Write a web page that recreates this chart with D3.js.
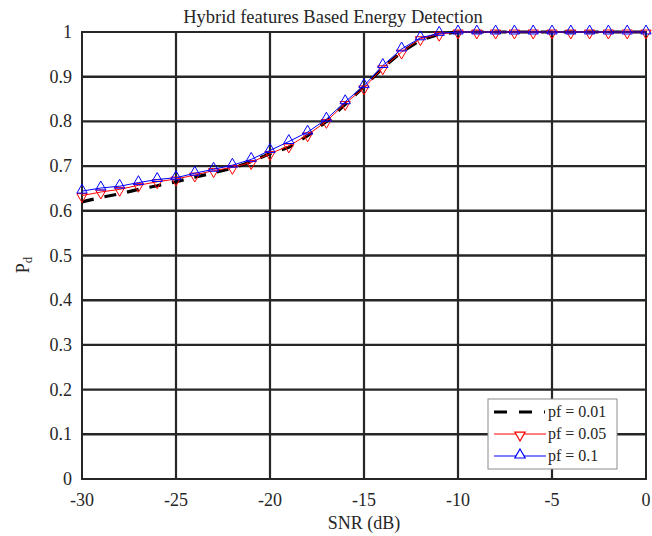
<html><head>
<meta charset="utf-8">
<title>Hybrid features Based Energy Detection</title>
<style>
  body {margin:0; background:#fff;}
  text {font-family:"Liberation Serif","Times New Roman",serif; fill:#262626;}
</style>
</head>
<body>
<script src="https://d3js.org/d3.v7.min.js"></script>
<script>
// SNR (dB) values
var snr = d3.range(-30, 1, 1);
// Pd
var pd001 = [0.620,0.630,0.638,0.648,0.656,0.665,0.675,0.685,0.695,0.710,0.728,
             0.742,0.768,0.800,0.838,0.878,0.920,0.955,0.982,0.995,1,
             1,1,1,1,1,1,1,1,1,1];
var pd005 = [0.634,0.642,0.648,0.657,0.665,0.671,0.680,0.690,0.697,0.708,0.728,
             0.745,0.770,0.800,0.840,0.875,0.920,0.955,0.985,0.995,1,
             1,1,1,1,1,1,1,1,1,1];
var pd01  = [0.644,0.651,0.655,0.663,0.670,0.674,0.684,0.693,0.702,0.715,0.735,
             0.755,0.776,0.805,0.844,0.880,0.925,0.962,0.987,0.997,1,
             1,1,1,1,1,1,1,1,1,1];
var xTicks = [-30,-25,-20,-15,-10,-5,0];
var yTicks = [0,0.1,0.2,0.3,0.4,0.5,0.6,0.7,0.8,0.9,1];
var names = ["pf = 0.01","pf = 0.05","pf = 0.1"];

var width = 652, height = 536;
var m = {left:82, right:6, top:32, bottom:57};

var svg = d3.select("body").append("svg")
    .attr("width", width).attr("height", height);

var x = d3.scaleLinear().domain([-30,0]).range([m.left, width-m.right]);
var y = d3.scaleLinear().domain([0,1]).range([height-m.bottom, m.top]);

var ink = "#262626";

// grid
svg.append("g").selectAll("line").data(xTicks.slice(1,-1)).enter().append("line")
    .attr("x1", d => x(d)).attr("x2", d => x(d))
    .attr("y1", y(0)).attr("y2", y(1))
    .attr("stroke", ink).attr("stroke-width", 2.2);
svg.append("g").selectAll("line").data(yTicks.slice(1,-1)).enter().append("line")
    .attr("y1", d => y(d)).attr("y2", d => y(d))
    .attr("x1", x(-30)).attr("x2", x(0))
    .attr("stroke", ink).attr("stroke-width", 2.4);

// box
svg.append("rect")
    .attr("x", x(-30)).attr("y", y(1))
    .attr("width", x(0)-x(-30)).attr("height", y(0)-y(1))
    .attr("fill", "none").attr("stroke", ink).attr("stroke-width", 2);

// axes labels
svg.append("g").selectAll("text").data(xTicks).enter().append("text")
    .attr("x", d => x(d)).attr("y", y(0)+27)
    .attr("text-anchor", "middle").attr("font-size", 18)
    .text(d => d);
svg.append("g").selectAll("text").data(yTicks).enter().append("text")
    .attr("x", x(-30)-10).attr("y", d => y(d)+6)
    .attr("text-anchor", "end").attr("font-size", 18)
    .text(d => d);

svg.append("text").attr("x", (x(-30)+x(0))/2).attr("y", 529)
    .attr("text-anchor", "middle").attr("font-size", 18).text("SNR (dB)");

var yl = svg.append("text").attr("transform", "translate(29,265) rotate(-90)")
    .attr("text-anchor", "middle").attr("font-size", 18);
yl.append("tspan").text("P");
yl.append("tspan").attr("font-size", 13).attr("dy", 3).text("d");

// title sits a bit left of the plot centre in the original
svg.append("text").attr("x", 333).attr("y", 23)
    .attr("text-anchor", "middle").attr("font-size", 18.5)
    .text("Hybrid features Based Energy Detection");

// series
var line = d3.line().x((d,i) => x(snr[i])).y(d => y(d));
var tri = d3.symbol().type(d3.symbolTriangle).size(46);

svg.append("path").datum(pd001).attr("d", line)
    .attr("fill", "none").attr("stroke", "#000").attr("stroke-width", 3.2)
    .attr("stroke-dasharray", "12,11");

svg.append("path").datum(pd005).attr("d", line)
    .attr("fill", "none").attr("stroke", "#ff0000").attr("stroke-width", 1);
svg.append("g").selectAll("path").data(pd005).enter().append("path")
    .attr("d", tri)
    .attr("transform", (d,i) => "translate(" + x(snr[i]) + "," + (y(d)+1) + ") rotate(180)")
    .attr("fill", "none").attr("stroke", "#ff0000").attr("stroke-width", 1);

svg.append("path").datum(pd01).attr("d", line)
    .attr("fill", "none").attr("stroke", "#0000ff").attr("stroke-width", 1);
svg.append("g").selectAll("path").data(pd01).enter().append("path")
    .attr("d", tri)
    .attr("transform", (d,i) => "translate(" + x(snr[i]) + "," + (y(d)-1) + ")")
    .attr("fill", "none").attr("stroke", "#0000ff").attr("stroke-width", 1);

// legend
var lg = svg.append("g").attr("transform", "translate(488,399)");
lg.append("rect").attr("width", 129).attr("height", 70)
    .attr("fill", "#fff").attr("stroke", "#8c8c8c").attr("stroke-width", 1);
var rows = [13, 35, 57];
lg.append("line").attr("x1", 6).attr("x2", 57).attr("y1", rows[0]).attr("y2", rows[0])
    .attr("stroke", "#000").attr("stroke-width", 3.2).attr("stroke-dasharray", "13,12");
lg.append("line").attr("x1", 6).attr("x2", 58).attr("y1", rows[1]).attr("y2", rows[1])
    .attr("stroke", "#ff0000").attr("stroke-width", 1);
lg.append("path").attr("d", tri).attr("transform", "translate(32," + (rows[1]+1) + ") rotate(180)")
    .attr("fill", "#fff").attr("stroke", "#ff0000").attr("stroke-width", 1.2);
lg.append("line").attr("x1", 6).attr("x2", 58).attr("y1", rows[2]).attr("y2", rows[2])
    .attr("stroke", "#0000ff").attr("stroke-width", 1);
lg.append("path").attr("d", tri).attr("transform", "translate(32," + (rows[2]-1) + ")")
    .attr("fill", "#fff").attr("stroke", "#0000ff").attr("stroke-width", 1.2);
lg.selectAll("text.lab").data(names).enter().append("text")
    .attr("x", 60).attr("y", (d,i) => rows[i]+5)
    .attr("font-size", 16).text(d => d);
</script>
</body></html>
